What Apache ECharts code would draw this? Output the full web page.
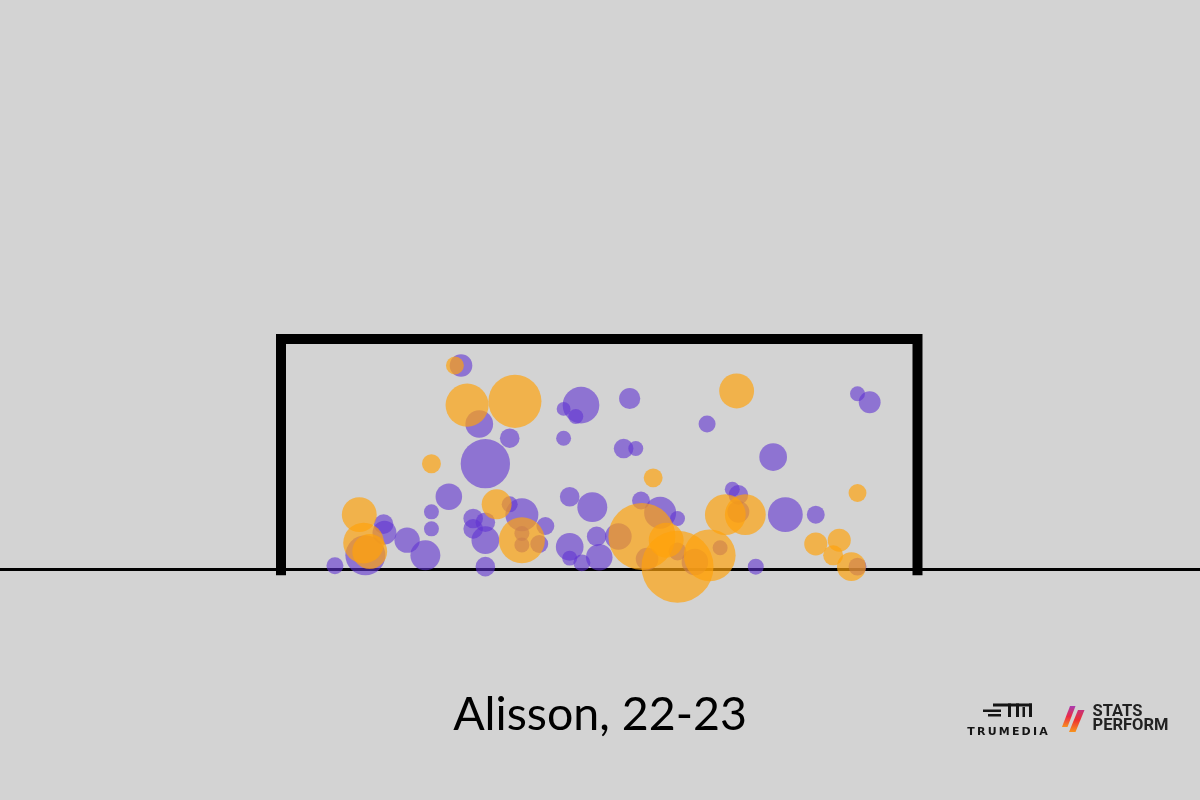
<!DOCTYPE html>
<html>
<head>
<meta charset="utf-8">
<style>
  html, body { margin: 0; padding: 0; background: #d3d3d3; }
  #chart { width: 1200px; height: 800px; }
</style>
<script src="https://cdn.jsdelivr.net/npm/echarts@6/dist/echarts.min.js"></script>
</head>
<body>
<div id="chart"></div>
<script>
// ---- Data (metres from left post / above ground; bubble value = xG) ----
const titleText = 'Alisson, 22-23';

const goalWidth = 7.32;
const goalHeight = 2.44;

// Saved shots (purple)
const savedX = [2.07, 2.28, 2.63, 2.35, 3.45, 3.25, 3.39, 3.25, 1.93, 2.63, 2.77, 1.73, 1.73, 1.18, 1.19, 0.97, 0.62, 1.45, 1.66, 2.21, 2.35, 2.21, 2.35, 2.77, 2.77, 2.97, 3.04, 2.35, 3.32, 3.58, 3.32, 3.32, 3.46, 3.66, 3.63, 3.88, 4.01, 4.90, 6.63, 6.77, 3.94, 4.08, 5.66, 4.14, 4.36, 4.56, 4.76, 4.21, 4.56, 5.05, 5.19, 5.26, 5.26, 5.80, 6.15, 6.63, 5.46];
const savedY = [2.16, 1.54, 1.39, 1.12, 1.74, 1.70, 1.62, 1.39, 0.77, 0.69, 0.58, 0.61, 0.43, 0.48, 0.39, 0.15, 0.04, 0.31, 0.15, 0.54, 0.50, 0.43, 0.31, 0.38, 0.26, 0.27, 0.46, 0.03, 0.77, 0.66, 0.24, 0.12, 0.07, 0.13, 0.35, 0.35, 1.81, 1.54, 1.86, 1.77, 1.28, 1.28, 1.19, 0.73, 0.60, 0.54, 0.08, 0.11, 0.19, 0.23, 0.85, 0.79, 0.61, 0.58, 0.58, 0.03, 0.03];
const savedXG = [0.08, 0.12, 0.06, 0.38, 0.21, 0.03, 0.035, 0.035, 0.11, 0.04, 0.17, 0.035, 0.035, 0.06, 0.09, 0.25, 0.045, 0.10, 0.14, 0.06, 0.06, 0.06, 0.12, 0.035, 0.035, 0.05, 0.05, 0.06, 0.06, 0.14, 0.12, 0.035, 0.045, 0.11, 0.06, 0.11, 0.07, 0.045, 0.035, 0.075, 0.06, 0.035, 0.12, 0.05, 0.16, 0.035, 0.11, 0.08, 0.05, 0.035, 0.035, 0.06, 0.075, 0.19, 0.05, 0.05, 0.04];

// Goals conceded (orange)
const goalX = [2.00, 2.14, 2.69, 1.73, 2.48, 0.90, 0.95, 1.02, 2.77, 5.24, 4.28, 6.63, 4.15, 4.43, 4.56, 4.93, 5.11, 5.34, 6.15, 6.42, 6.35, 6.56];
const goalY = [2.16, 1.74, 1.78, 1.12, 0.69, 0.58, 0.28, 0.19, 0.31, 1.89, 0.97, 0.81, 0.35, 0.31, 0.03, 0.15, 0.58, 0.58, 0.27, 0.31, 0.15, 0.03];
const goalXG = [0.05, 0.29, 0.44, 0.056, 0.14, 0.19, 0.26, 0.19, 0.33, 0.19, 0.056, 0.05, 0.70, 0.19, 0.81, 0.42, 0.26, 0.26, 0.083, 0.083, 0.0625, 0.13];

// Goal frame and ground
const frameX = [0, 0, goalWidth, goalWidth];
const frameY = [-0.06, goalHeight, goalHeight, -0.06];
const xMin = -3.232, xMax = 10.569;
const yMin = -0.5, yMax = 2.8;

// ---- Build ----
const zip3 = (a, b, c) => a.map((v, i) => [v, b[i], c[i]]);
const zip2 = (a, b) => a.map((v, i) => [v, b[i]]);

const chart = echarts.init(document.getElementById('chart'), null, { renderer: 'canvas' });

const sizeFn = v => Math.sqrt(v[2]) * 80;
const thin = '\u2009';

const option = {
  backgroundColor: '#d3d3d3',
  animation: false,
  title: {
    text: titleText,
    left: 'center',
    top: 686,
    textStyle: { fontFamily: 'Lato', fontSize: 46.5, fontWeight: 'normal', color: '#000' }
  },
  grid: { left: 0, right: 0, top: 305, bottom: 183.3 },
  xAxis: { type: 'value', min: xMin, max: xMax, show: false },
  yAxis: { type: 'value', min: yMin, max: yMax, show: false },
  series: [
    {
      type: 'line', silent: true, symbol: 'none', z: 1,
      data: [[xMin, 0], [xMax, 0]],
      lineStyle: { color: '#000', width: 3 }
    },
    {
      type: 'line', silent: true, symbol: 'none', z: 1,
      data: zip2(frameX, frameY),
      lineStyle: { color: '#000', width: 10, join: 'miter', cap: 'butt' }
    },
    {
      name: 'Saved', type: 'scatter', z: 3, clip: false,
      data: zip3(savedX, savedY, savedXG),
      symbolSize: sizeFn,
      itemStyle: { color: '#6034d2', opacity: 0.6 }
    },
    {
      name: 'Goal', type: 'scatter', z: 4, clip: false,
      data: zip3(goalX, goalY, goalXG),
      symbolSize: sizeFn,
      itemStyle: { color: '#ffa20a', opacity: 0.68 }
    }
  ],
  graphic: [
    // TruMedia mark
    { type: 'rect', shape: { x: 993, y: 703.5, width: 39, height: 3 }, style: { fill: '#151515' } },
    { type: 'rect', shape: { x: 983, y: 709.5, width: 18, height: 2.5 }, style: { fill: '#151515' } },
    { type: 'rect', shape: { x: 988, y: 714, width: 13, height: 2.5 }, style: { fill: '#151515' } },
    { type: 'rect', shape: { x: 1008, y: 703.5, width: 3, height: 13.5 }, style: { fill: '#151515' } },
    { type: 'rect', shape: { x: 1016, y: 703.5, width: 3, height: 13.5 }, style: { fill: '#151515' } },
    { type: 'rect', shape: { x: 1022.5, y: 707, width: 2.5, height: 10 }, style: { fill: '#151515' } },
    { type: 'rect', shape: { x: 1029, y: 703.5, width: 3, height: 13.5 }, style: { fill: '#151515' } },
    { type: 'text', x: 1007.5, y: 732, style: { text: ['T','R','U','M','E','D','I','A'].join(thin), fill: '#151515', font: 'bold 11px "DejaVu Sans"', textAlign: 'center', textVerticalAlign: 'middle' } },
    // Stats Perform mark
    { type: 'polygon', shape: { points: [[1062, 727], [1070, 706], [1075.5, 706], [1067.5, 727]] },
      style: { fill: new echarts.graphic.LinearGradient(0, 0, 0, 1, [{ offset: 0, color: '#a83cb0' }, { offset: 0.5, color: '#ec2a45' }, { offset: 1, color: '#f7901e' }]) } },
    { type: 'polygon', shape: { points: [[1069, 732], [1078, 710], [1084.5, 710], [1075.5, 732]] },
      style: { fill: new echarts.graphic.LinearGradient(0, 0, 0, 1, [{ offset: 0, color: '#c4337e' }, { offset: 0.45, color: '#ee3030' }, { offset: 1, color: '#f7941d' }]) } },
    { type: 'text', x: 1092.5, y: 712, style: { text: 'STATS', fill: '#222', font: 'bold 16.5px Roboto', textAlign: 'left', textVerticalAlign: 'middle' } },
    { type: 'text', x: 1092.5, y: 726, style: { text: 'PERFORM', fill: '#222', font: 'bold 16.5px Roboto', textAlign: 'left', textVerticalAlign: 'middle' } }
  ]
};

chart.setOption(option);
</script>
</body>
</html>
